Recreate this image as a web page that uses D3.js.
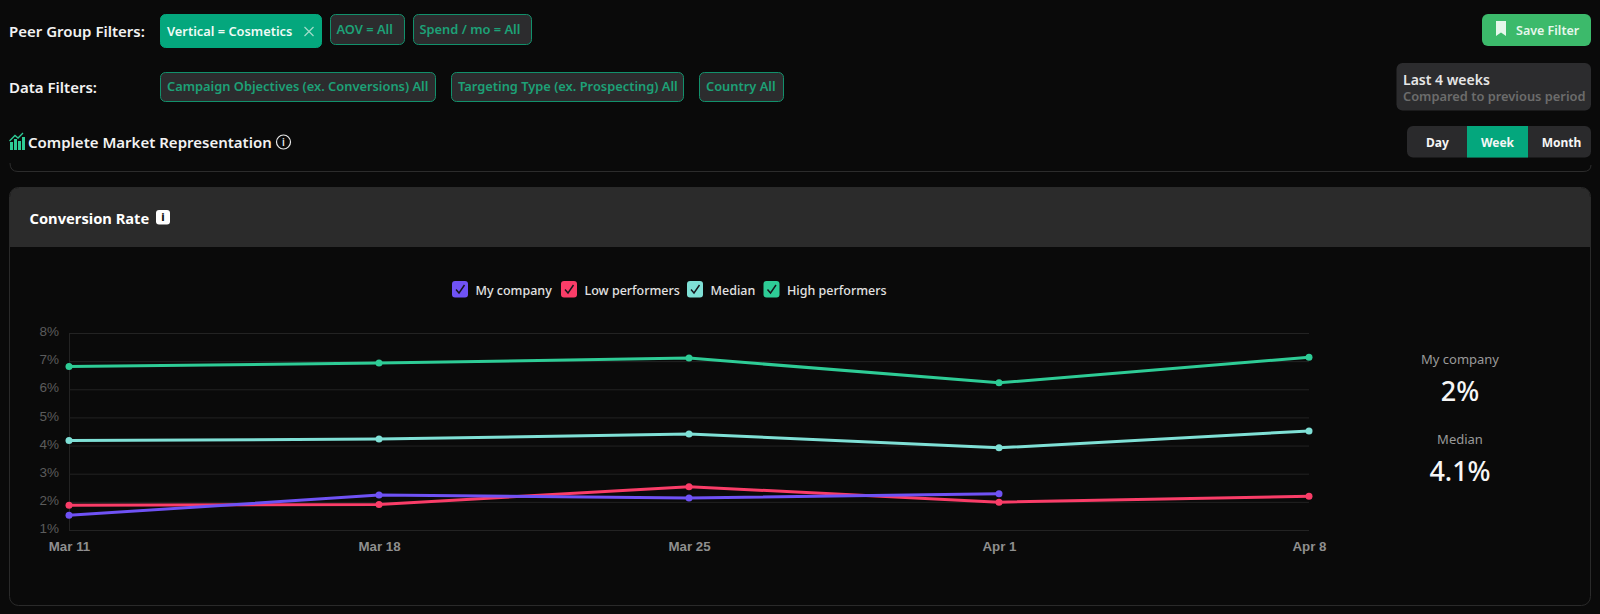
<!DOCTYPE html>
<html><head><meta charset="utf-8">
<script src="https://cdn.jsdelivr.net/npm/d3@7/dist/d3.min.js"></script>
<style>
html,body{margin:0;padding:0;background:#0a0a0a;overflow:hidden}
svg{display:block}
text{font-family:"Noto Sans","Open Sans",sans-serif}
</style></head><body>
<svg id="c" width="1600" height="614"></svg>
<script>
const categories=["Mar 11","Mar 18","Mar 25","Apr 1","Apr 8"];
const yTicks=[1,2,3,4,5,6,7,8];
const seriesNames=["My company","Low performers","Median","High performers"];
const myCompany=[1.52,2.24,2.14,2.29,null];
const lowPerformers=[1.88,1.91,2.54,1.99,2.20];
const median=[4.18,4.23,4.41,3.92,4.52];
const highPerformers=[6.81,6.93,7.11,6.23,7.14];
const summaryLabels=["My company","Median"];
const summaryValues=["2%","4.1%"];

const C={bg:"#0a0a0a",chip:"#2c2c2e",green:"#04a77d",chipText:"#1da177",chipBorder:"#12906b"};
const colors=["#6f52f5","#fa3d68","#7fe0d6","#2ecc96"];
const svg=d3.select("#c");
svg.append("rect").attr("width",1600).attr("height",614).attr("fill",C.bg);

function label(x,y,t,o={}){
  return svg.append("text").attr("x",x).attr("y",y).attr("dy","0.35em").text(t)
    .attr("fill",o.fill||"#f2f2f2").attr("font-size",o.size||14).attr("font-weight",o.weight||600)
    .attr("text-anchor",o.anchor||"start").style("font-family",o.family||null);
}
function chip(x0,x1,y0,y1,t,tx,active){
  svg.append("rect").attr("x",x0+.5).attr("y",y0+.5).attr("width",x1-x0-1).attr("height",y1-y0-1).attr("rx",5)
    .attr("fill",active?C.green:C.chip).attr("stroke",active?C.green:C.chipBorder);
  label(tx,(y0+y1)/2+(active?1:0),t,{fill:active?"#f0fbf6":C.chipText,size:12.85,weight:600});
}
// filter rows
label(9,32,"Peer Group Filters:",{size:15});
label(9,88,"Data Filters:",{size:15});
chip(160,322,14,48,"Vertical = Cosmetics",167,true);
svg.append("path").attr("d","M304.5,27l9,9m0,-9l-9,9").attr("stroke","#9fdcc8").attr("stroke-width",1.3).attr("fill","none");
chip(330,405,14,45,"AOV = All",336.5);
chip(413,532,14,45,"Spend / mo = All",419.5);
chip(160,436,72,102,"Campaign Objectives (ex. Conversions) All",167);
chip(451,684,72,102,"Targeting Type (ex. Prospecting) All",458);
chip(699,784,72,102,"Country All",706);

// title row
const ic=svg.append("g").attr("fill","#2ecc96");
[[10,142,3,8],[14,139,3,11],[18,141,3,9],[22,137,3,13]].forEach(r=>ic.append("rect").attr("x",r[0]).attr("y",r[1]).attr("width",r[2]).attr("height",r[3]));
svg.append("path").attr("d","M9.5,141L15,135.5L18,138L23,133").attr("stroke","#2ecc96").attr("stroke-width",1.3).attr("fill","none");
label(28,142.5,"Complete Market Representation",{size:15});
svg.append("circle").attr("cx",283.5).attr("cy",142).attr("r",7).attr("fill","none").attr("stroke","#e8e8e8").attr("stroke-width",1.2);
label(283.5,142.5,"i",{size:10,anchor:"middle",fill:"#e8e8e8"});
svg.append("path").attr("d","M10,163Q10,171.5,18,171.5H1583Q1591,171.5,1591,165").attr("fill","none").attr("stroke","#2c2c2c");

// right controls
svg.append("rect").attr("x",1482).attr("y",14).attr("width",109).attr("height",32).attr("rx",6).attr("fill","#3cba6b");
svg.append("path").attr("d","M1496,21h10v15l-5,-3.5l-5,3.5z").attr("fill","#e6f7ec");
label(1516,30.5,"Save Filter",{size:12.5,fill:"#e6f7ec"});
svg.append("rect").attr("x",1396.5).attr("y",63).attr("width",194.5).attr("height",47.5).attr("rx",6).attr("fill",C.chip);
label(1403,80.5,"Last 4 weeks",{size:14,fill:"#e6e6e6"});
label(1403,96.5,"Compared to previous period",{size:12.85,fill:"#6c6c6c"});
svg.append("rect").attr("x",1407).attr("y",126).attr("width",184).attr("height",31.5).attr("rx",6).attr("fill","#2a2a2c");
svg.append("rect").attr("x",1467).attr("y",126).attr("width",61).attr("height",31.5).attr("fill",C.green);
[["Day",1437.5],["Week",1497.5],["Month",1561.5]].forEach(d=>label(d[1],142.5,d[0],{size:12,anchor:"middle",fill:"#f6f6f6",weight:700}));

// card
svg.append("rect").attr("x",9.5).attr("y",187.5).attr("width",1581).attr("height",418).attr("rx",9).attr("fill",C.bg).attr("stroke","#2a2a2a");
svg.append("path").attr("d","M10,247V197Q10,188,19,188H1581Q1590,188,1590,197V247Z").attr("fill","#2b2b2b");
label(29.5,219,"Conversion Rate",{size:14.7,weight:700,fill:"#fff"});
svg.append("rect").attr("x",156).attr("y",210).attr("width",14).attr("height",14.5).attr("rx",3).attr("fill","#fff");
label(163,217.5,"i",{size:11,weight:800,anchor:"middle",fill:"#111"});

// scales
const m={l:69,r:1309,t:333,b:530};
const x=d3.scalePoint().domain(categories).range([m.l,m.r]);
const y=d3.scaleLinear().domain([1,8]).range([m.b,m.t]);

// y axis + grid
const yA=svg.append("g").attr("transform",`translate(${m.l},0)`)
  .call(d3.axisLeft(y).tickValues(yTicks).tickSize(-(m.r-m.l)).tickPadding(10).tickFormat(d=>d+"%"));
yA.select(".domain").attr("stroke","#232323").attr("d",`M0.5,${m.t}V${m.b}`);
yA.selectAll("line").attr("stroke","#232323");
yA.selectAll("text").attr("fill","#5c5c5c").attr("dy","0.2em").style("font-family","'Liberation Sans'").style("font-size","13.5px");
// x axis
const xA=svg.append("g").attr("transform",`translate(0,${m.b})`)
  .call(d3.axisBottom(x).tickSize(0).tickPadding(12));
xA.select(".domain").remove();
xA.selectAll("text").attr("fill","#8f8f8f").style("font-family","'Liberation Sans'").style("font-size","13.3px").style("font-weight","700");

// series
const all=[myCompany,lowPerformers,median,highPerformers];
const line=d3.line().defined(d=>d!=null).x((d,i)=>x(categories[i])).y(d=>y(d));
[3,2,1,0].forEach(k=>{
  const g=svg.append("g");
  g.append("path").attr("d",line(all[k])).attr("fill","none").attr("stroke",colors[k]).attr("stroke-width",3);
  g.selectAll("circle").data(all[k].map((v,i)=>({v,i})).filter(d=>d.v!=null)).join("circle")
    .attr("cx",d=>x(categories[d.i])).attr("cy",d=>y(d.v)).attr("r",3.5).attr("fill",colors[k]);
});

// legend
const legendX=[452,561,687,763.5];
seriesNames.forEach((n,i)=>{
  const lx=legendX[i];
  svg.append("rect").attr("x",lx).attr("y",281).attr("width",16).attr("height",16.5).attr("rx",3).attr("fill",colors[i]);
  svg.append("path").attr("d",`M${lx+4},${289.5}l3,3.5l5.5,-8`).attr("fill","none").attr("stroke","#15151c").attr("stroke-width",1.4);
  label(lx+23.5,290.5,n,{size:12.5,weight:500,fill:"#e2e2e2"});
});

// summary
summaryLabels.forEach((n,i)=>{
  const cy=[359,439][i], vy=[392,472][i];
  label(1460,cy,n,{size:13,weight:400,anchor:"middle",fill:"#9a9a9a"});
  label(1460,vy,summaryValues[i],{size:27,weight:500,anchor:"middle",fill:"#f6f6f6"});
});
</script></body></html>
